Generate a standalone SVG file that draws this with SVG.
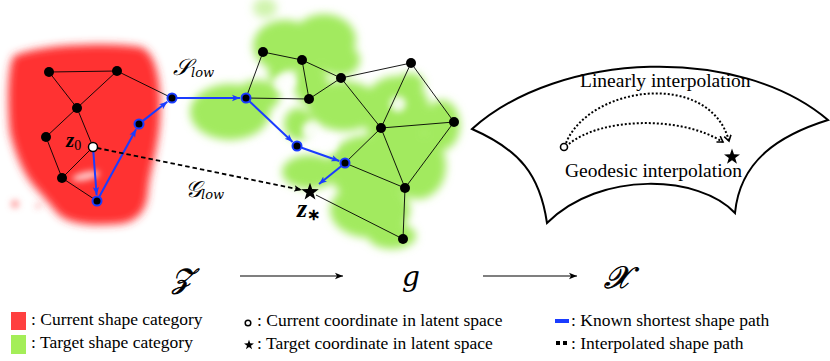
<svg xmlns="http://www.w3.org/2000/svg" width="830" height="361" viewBox="0 0 830 361">
<defs>
<style>
.edge{stroke:#000;stroke-width:0.9;fill:none}
.node{fill:#000}
.bnode{fill:#000;stroke:#1a3cff;stroke-width:2}
.blue{stroke:#1a3cff;stroke-width:2;fill:none;marker-end:url(#ab)}
.txt{font-family:"Liberation Serif","Times New Roman",serif;fill:#000}
.math{font-family:"DejaVu Serif","Liberation Serif",serif;font-style:italic;fill:#000}
.heavy{stroke:#000;stroke-width:0.7}
.zb{font-family:"Liberation Serif",serif;font-style:italic;font-weight:bold;fill:#000}
.dot{stroke:#000;stroke-width:2;stroke-dasharray:2 2;fill:none;marker-end:url(#ad)}
</style>
<filter id="blur" x="-20%" y="-20%" width="140%" height="140%"><feGaussianBlur stdDeviation="4"/></filter>
<filter id="blur2" x="-50%" y="-50%" width="200%" height="200%"><feGaussianBlur stdDeviation="3"/></filter>
<filter id="blur3" x="-20%" y="-20%" width="140%" height="140%"><feGaussianBlur stdDeviation="4.5"/></filter>
<marker id="ab" markerWidth="10" markerHeight="8" refX="8" refY="4" orient="auto" markerUnits="userSpaceOnUse"><path d="M0,0.8 L8,4 L0,7.2 L2,4 Z" fill="#1a3cff"/></marker>
<marker id="ak" markerWidth="10" markerHeight="8" refX="8" refY="4" orient="auto" markerUnits="userSpaceOnUse"><path d="M0,0.8 L8,4 L0,7.2 L2,4 Z" fill="#000"/></marker>
<marker id="ad" markerWidth="10" markerHeight="10" refX="6" refY="4" orient="auto" markerUnits="userSpaceOnUse"><path d="M0.5,0.5 L6,4 L0.5,7.5" fill="none" stroke="#000" stroke-width="1.6"/></marker>
<polygon id="star" points="0,-8 1.88,-2.59 7.61,-2.47 3.04,0.99 4.70,6.47 0,3.2 -4.70,6.47 -3.04,0.99 -7.61,-2.47 -1.88,-2.59"/>
</defs>
<rect width="830" height="361" fill="#fff"/>

<g id="blob-current" filter="url(#blur)">
<path fill="#ff3232" d="M14 56 C40 44 110 42 140 47 C158 52 162 90 160 120 C158 150 150 170 148 190 C147 208 140 222 118 224 C95 226 70 225 58 214 C50 204 42 195 34 186 C22 172 14 150 10 132 C7 100 8 65 14 56 Z"/>
</g>
<g id="blob-current-detail" filter="url(#blur2)">
<ellipse cx="86" cy="176" rx="14" ry="4" fill="#fff" opacity="0.75" transform="rotate(-12 86 176)"/>
<circle cx="15" cy="204" r="4" fill="#f77" opacity="0.7"/>
<circle cx="38" cy="206" r="2" fill="#f55" opacity="0.8"/>
</g>

<g id="blob-target" filter="url(#blur3)" fill="#a2ea5e">
<ellipse cx="265" cy="8" rx="12" ry="10" opacity="0.5"/>
<ellipse cx="285" cy="46" rx="32" ry="26"/>
<ellipse cx="324" cy="40" rx="32" ry="26"/>
<ellipse cx="340" cy="60" rx="20" ry="16"/>
<ellipse cx="230" cy="112" rx="40" ry="28"/>
<ellipse cx="258" cy="96" rx="22" ry="16"/>
<ellipse cx="276" cy="74" rx="8" ry="8"/>
<ellipse cx="311" cy="84" rx="17" ry="22"/>
<ellipse cx="344" cy="106" rx="36" ry="25"/>
<ellipse cx="298" cy="124" rx="14" ry="16"/>
<ellipse cx="396" cy="112" rx="34" ry="36"/>
<ellipse cx="442" cy="125" rx="18" ry="25"/>
<ellipse cx="410" cy="84" rx="14" ry="11"/>
<ellipse cx="310" cy="172" rx="28" ry="17"/>
<ellipse cx="368" cy="168" rx="40" ry="33"/>
<ellipse cx="418" cy="166" rx="28" ry="33"/>
<ellipse cx="370" cy="210" rx="40" ry="28"/>
<ellipse cx="392" cy="236" rx="24" ry="13"/>
</g>
<g id="blob-target-holes" filter="url(#blur2)" fill="#fff" opacity="0.85">
<ellipse cx="285" cy="82" rx="11" ry="9"/>
<ellipse cx="310" cy="130" rx="8" ry="9"/>
<ellipse cx="331" cy="144" rx="6" ry="8"/>
<ellipse cx="398" cy="104" rx="8" ry="8"/>
<ellipse cx="262" cy="150" rx="14" ry="6"/>
</g>

<g id="manifold">
<path d="M472 129 C560 50, 740 45, 828 120 C780 135, 740 160, 735 213 C700 175, 600 170, 547 223 C540 175, 520 150, 472 129 Z" fill="#fff" stroke="#000" stroke-width="2"/>
<text class="txt" x="580" y="87" font-size="19.5">Linearly interpolation</text>
<text class="txt" x="565" y="177" font-size="19.5">Geodesic interpolation</text>
</g>

<g id="connectors">
<g id="graph-edges">
<line class="edge" x1="49" y1="72" x2="117" y2="71"/>
<line class="edge" x1="49" y1="72" x2="77" y2="108"/>
<line class="edge" x1="117" y1="71" x2="77" y2="108"/>
<line class="edge" x1="77" y1="108" x2="46" y2="137"/>
<line class="edge" x1="77" y1="108" x2="93" y2="147"/>
<line class="edge" x1="46" y1="137" x2="62" y2="178"/>
<line class="edge" x1="62" y1="178" x2="93" y2="147"/>
<line class="edge" x1="62" y1="178" x2="97" y2="201"/>
<line class="edge" x1="117" y1="71" x2="172" y2="98"/>
<line class="edge" x1="246" y1="98" x2="263" y2="52"/>
<line class="edge" x1="246" y1="98" x2="309" y2="99"/>
<line class="edge" x1="263" y1="52" x2="302" y2="60"/>
<line class="edge" x1="302" y1="60" x2="309" y2="99"/>
<line class="edge" x1="302" y1="60" x2="341" y2="78"/>
<line class="edge" x1="341" y1="78" x2="309" y2="99"/>
<line class="edge" x1="341" y1="78" x2="411" y2="63"/>
<line class="edge" x1="341" y1="78" x2="381" y2="128"/>
<line class="edge" x1="411" y1="63" x2="381" y2="128"/>
<line class="edge" x1="411" y1="63" x2="454" y2="122"/>
<line class="edge" x1="381" y1="128" x2="454" y2="122"/>
<line class="edge" x1="381" y1="128" x2="345" y2="163"/>
<line class="edge" x1="381" y1="128" x2="405" y2="188"/>
<line class="edge" x1="345" y1="163" x2="405" y2="188"/>
<line class="edge" x1="454" y1="122" x2="405" y2="188"/>
<line class="edge" x1="405" y1="188" x2="403" y2="239"/>
<line class="edge" x1="316" y1="195" x2="403" y2="239"/>
</g>
<g id="shortest-path">
<line class="blue" x1="93.3" y1="151" x2="96.6" y2="195"/>
<line class="blue" x1="99.4" y1="196.6" x2="136.1" y2="129.3"/>
<line class="blue" x1="142.9" y1="120.9" x2="167.3" y2="101.7"/>
<line class="blue" x1="177" y1="98" x2="240" y2="98"/>
<line class="blue" x1="249.6" y1="101.4" x2="292.6" y2="141.9"/>
<line class="blue" x1="301.7" y1="147.7" x2="339.3" y2="161"/>
<line class="blue" x1="341.2" y1="166.2" x2="319" y2="184"/>
</g>
<line id="geodesic-path" x1="97" y1="148" x2="302" y2="190" stroke="#000" stroke-width="1.8" stroke-dasharray="4.5 3" marker-end="url(#ak)"/>
<g id="interp-arrows">
<path class="dot" d="M566 143 C590 85, 710 70, 729 141"/>
<path class="dot" d="M569 144 C600 118, 680 115, 723 142"/>
</g>
<line x1="240" y1="276" x2="343" y2="276" stroke="#000" stroke-width="1.1" marker-end="url(#ak)"/>
<line x1="483" y1="276" x2="577" y2="276" stroke="#000" stroke-width="1.1" marker-end="url(#ak)"/>
</g>

<g id="nodes">
<circle class="node" cx="49" cy="72" r="5"/>
<circle class="node" cx="117" cy="71" r="5"/>
<circle class="node" cx="77" cy="108" r="5"/>
<circle class="node" cx="46" cy="137" r="5"/>
<circle class="node" cx="62" cy="178" r="5"/>
<circle id="z0" cx="93" cy="147" r="4.5" fill="#fff" stroke="#000" stroke-width="1.5"/>
<circle class="bnode" cx="97" cy="201" r="4.5"/>
<circle class="bnode" cx="139" cy="124" r="4.5"/>
<circle class="bnode" cx="172" cy="98" r="4.5"/>
<circle class="bnode" cx="246" cy="98" r="4.5"/>
<circle class="bnode" cx="297" cy="146" r="4.5"/>
<circle class="bnode" cx="345" cy="163" r="4.5"/>
<circle class="node" cx="263" cy="52" r="5"/>
<circle class="node" cx="302" cy="60" r="5"/>
<circle class="node" cx="341" cy="78" r="5"/>
<circle class="node" cx="309" cy="99" r="5"/>
<circle class="node" cx="411" cy="63" r="5"/>
<circle class="node" cx="454" cy="122" r="5"/>
<circle class="node" cx="381" cy="128" r="5"/>
<circle class="node" cx="405" cy="188" r="5"/>
<circle class="node" cx="403" cy="239" r="5"/>
<use href="#star" transform="translate(310 192) scale(1.15)"/>
<circle id="manifold-start" cx="564" cy="147" r="3.5" fill="#fff" stroke="#000" stroke-width="1.6"/>
<use id="manifold-target" href="#star" transform="translate(732 157) scale(1.05)"/>
</g>

<g id="graph-labels">
<text class="zb" x="66" y="147" font-size="21">z<tspan font-size="14" font-weight="normal" font-style="normal" dy="3">0</tspan></text>
<text class="zb" x="297" y="217" font-size="26">z<tspan font-size="16" font-weight="bold" font-style="normal" dy="3">∗</tspan></text>
<text class="math" x="173" y="75" font-size="23">𝒮<tspan font-size="13" dy="2">low</tspan></text>
<text class="math" x="185" y="197" font-size="23">𝒢<tspan font-size="13" dy="2">low</tspan></text>
</g>

<g id="spaces">
<text class="math heavy" x="172" y="288" font-size="28">𝒵</text>
<text class="math" x="402" y="286" font-size="28">𝑔</text>
<text class="math heavy" x="604" y="288" font-size="31">𝒳</text>
</g>

<g id="legend">
<rect x="11" y="312" width="15" height="18" fill="#ff4040"/>
<rect x="11" y="335" width="15" height="19" fill="#a4ee58"/>
<text class="txt" x="31" y="325" font-size="17.5">: Current shape category</text>
<text class="txt" x="31" y="348" font-size="17.5">: Target shape category</text>
<circle cx="248" cy="323" r="2.8" fill="#fff" stroke="#000" stroke-width="1.5"/>
<use href="#star" transform="translate(249 345) scale(0.65)"/>
<text class="txt" x="257" y="326" font-size="17.5">: Current coordinate in latent space</text>
<text class="txt" x="257" y="349" font-size="17.5">: Target coordinate in latent space</text>
<rect x="555" y="319" width="14" height="4" fill="#1a3cff"/>
<rect x="556" y="341" width="4" height="4" fill="#000"/>
<rect x="563" y="341" width="4" height="4" fill="#000"/>
<text class="txt" x="571" y="326" font-size="17.5">: Known shortest shape path</text>
<text class="txt" x="571" y="349" font-size="17.5">: Interpolated shape path</text>
</g>
</svg>
